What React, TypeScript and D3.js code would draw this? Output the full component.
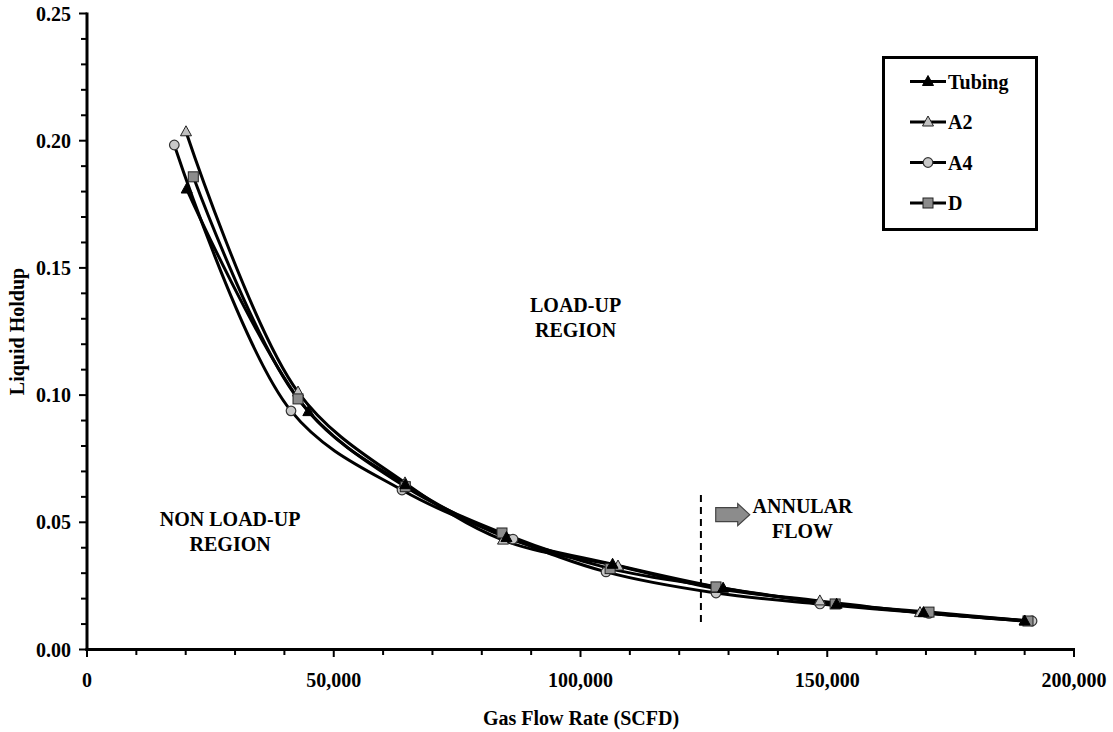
import React from "react";
import * as d3 from "d3";

type Pt = [number, number];

const tubing: Pt[] = [
  [20200, 0.181], [44850, 0.0935], [64500, 0.0648], [85000, 0.0440], [106500, 0.0335],
  [128900, 0.0241], [151900, 0.0178], [169500, 0.0145], [190000, 0.0112],
];
const a2: Pt[] = [
  [20060, 0.2035], [42760, 0.1012], [64440, 0.0655], [84300, 0.0430], [107600, 0.0328],
  [127500, 0.0240], [148500, 0.0191], [168800, 0.0145], [190000, 0.0112],
];
const a4: Pt[] = [
  [17690, 0.1983], [41340, 0.0938], [63830, 0.0627], [86320, 0.0434], [105170, 0.0305],
  [127460, 0.0222], [148530, 0.0179], [170600, 0.0142], [191500, 0.0112],
];
const dSeries: Pt[] = [
  [21540, 0.1858], [42760, 0.0985], [64500, 0.0640], [84090, 0.0458], [106000, 0.0318],
  [127460, 0.0246], [151600, 0.0179], [170620, 0.0147], [190680, 0.0112],
];

const xTicks = [0, 50000, 100000, 150000, 200000];
const yTicks = [0, 0.05, 0.1, 0.15, 0.2, 0.25];
const seriesNames = ["Tubing", "A2", "A4", "D"];
const regionLabels = [
  { lines: ["LOAD-UP", "REGION"], x: 99000, y: 0.1325 },
  { lines: ["NON LOAD-UP", "REGION"], x: 29000, y: 0.0485 },
  { lines: ["ANNULAR", "FLOW"], x: 145000, y: 0.0535 },
];
const boundaryX = 124400;
const boundaryY: [number, number] = [0.0098, 0.0607];

const FONT = "'Liberation Serif', 'Times New Roman', serif";

function Marker({ kind, x, y }: { kind: string; x: number; y: number }) {
  if (kind === "Tubing") {
    return <path d={`M${x},${y - 6} L${x + 5.5},${y + 4} L${x - 5.5},${y + 4} Z`} fill="#000" stroke="#000" strokeWidth={1} />;
  }
  if (kind === "A2") {
    return <path d={`M${x},${y - 6} L${x + 5.5},${y + 4} L${x - 5.5},${y + 4} Z`} fill="#c0c0c0" stroke="#222" strokeWidth={1} />;
  }
  if (kind === "A4") {
    return <circle cx={x} cy={y} r={4.8} fill="#c8c8c8" stroke="#333" strokeWidth={1.2} />;
  }
  return <rect x={x - 5} y={y - 5} width={10} height={10} fill="#8c8c8c" stroke="#222" strokeWidth={1} />;
}

export default function App() {
  const W = 1113, H = 732;
  const x = d3.scaleLinear().domain([0, 200000]).range([87, 1074]);
  const y = d3.scaleLinear().domain([0, 0.25]).range([649.5, 13.5]);
  const line = d3
    .line<Pt>()
    .x((d) => x(d[0]))
    .y((d) => y(d[1]))
    .curve(d3.curveCatmullRom.alpha(0.5));
  const all: [string, Pt[]][] = [
    ["Tubing", tubing],
    ["A2", a2],
    ["A4", a4],
    ["D", dSeries],
  ];
  const markerOrder: [string, Pt[]][] = [
    ["A4", a4],
    ["A2", a2],
    ["D", dSeries],
    ["Tubing", tubing],
  ];
  const fmtX = d3.format(",");
  const minorX = d3.range(0, 200001, 10000);
  const minorY = d3.range(0, 0.2501, 0.01);

  const arrowX0 = x(127400), arrowY = y(0.0530);
  const arrow = [
    [arrowX0, arrowY - 7],
    [arrowX0 + 22, arrowY - 7],
    [arrowX0 + 22, arrowY - 11],
    [arrowX0 + 34, arrowY],
    [arrowX0 + 22, arrowY + 11],
    [arrowX0 + 22, arrowY + 7],
    [arrowX0, arrowY + 7],
  ].map((p) => p.join(",")).join(" ");

  return (
    <div style={{ position: "absolute", left: 0, top: 0 }}>
      <svg width={W} height={H} style={{ display: "block", background: "#fff" }} fontFamily={FONT} fontWeight="bold">
        {/* y axis */}
        {minorY.map((v, i) => (
          <line key={"ym" + i} x1={i % 5 === 0 ? 79 : 81} x2={87} y1={y(v)} y2={y(v)} stroke="#000" strokeWidth={2} />
        ))}
        <line x1={87} x2={87} y1={y(0.25) - 1} y2={y(0) + 1.5} stroke="#000" strokeWidth={3} />
        {yTicks.map((v) => (
          <text key={"yl" + v} x={71} y={y(v) + 7} textAnchor="end" fontSize={20}>
            {v.toFixed(2)}
          </text>
        ))}
        <text transform={`translate(24,${y(0.125)}) rotate(-90)`} textAnchor="middle" fontSize={20}>
          Liquid Holdup
        </text>

        {/* x axis */}
        {minorX.map((v, i) => (
          <line key={"xm" + i} x1={x(v)} x2={x(v)} y1={649.5} y2={i % 5 === 0 ? 657 : 655} stroke="#000" strokeWidth={2} />
        ))}
        <line x1={85.5} x2={x(200000) + 1} y1={649.5} y2={649.5} stroke="#000" strokeWidth={3} />
        {xTicks.map((v) => (
          <text key={"xl" + v} x={x(v)} y={687} textAnchor="middle" fontSize={20}>
            {fmtX(v)}
          </text>
        ))}
        <text x={581} y={725} textAnchor="middle" fontSize={20}>
          Gas Flow Rate (SCFD)
        </text>

        {/* boundary */}
        <line x1={x(boundaryX)} x2={x(boundaryX)} y1={y(boundaryY[1])} y2={y(boundaryY[0])} stroke="#000" strokeWidth={2} strokeDasharray="7,5" />
        <polygon points={arrow} fill="#8c8c8c" stroke="#444" strokeWidth={1.2} />

        {/* region labels */}
        {regionLabels.map((r, i) => (
          <text key={"rl" + i} textAnchor="middle" fontSize={20}>
            {r.lines.map((l, j) => (
              <tspan key={j} x={x(r.x)} y={y(r.y) + j * 25}>
                {l}
              </tspan>
            ))}
          </text>
        ))}

        {/* series */}
        {all.map(([name, data]) => (
          <path key={"p" + name} d={line(data) || ""} fill="none" stroke="#000" strokeWidth={3} />
        ))}
        {markerOrder.map(([name, data]) =>
          data.map((d, i) => <Marker key={name + i} kind={name} x={x(d[0])} y={y(d[1])} />)
        )}

        {/* legend */}
        <rect x={883.5} y={57.5} width={153} height={172} fill="#fff" stroke="#000" strokeWidth={3} />
        {seriesNames.map((n, i) => {
          const ly = 81.5 + i * 40.5;
          return (
            <g key={"lg" + n}>
              <line x1={910} x2={946} y1={ly} y2={ly} stroke="#000" strokeWidth={3} />
              <Marker kind={n} x={928} y={ly} />
              <text x={948} y={ly + 7} fontSize={20}>
                {n}
              </text>
            </g>
          );
        })}
      </svg>
    </div>
  );
}
